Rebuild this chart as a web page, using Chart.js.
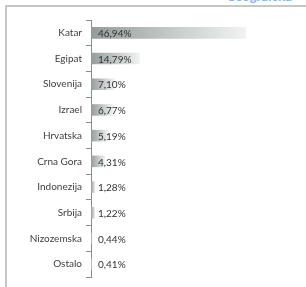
<!DOCTYPE html>
<html lang="hr">
<head>
    <meta charset="UTF-8">
    <title>Udio po zemljama</title>
    <script src="https://cdn.jsdelivr.net/npm/chart.js"></script>
    <style>
        body {
            margin: 0;
            background: white;
            width: 306px;
            height: 287px;
            overflow: hidden;
            position: relative;
            font-family: Lato, Arial, sans-serif;
        }
        .frame {
            position: absolute;
            left: 5px;
            top: 5px;
            width: 400px;
            height: 400px;
            border: 2px solid #c6c6c6;
        }
        .title {
            position: absolute;
            left: 226px;
            top: -12px;
            font-size: 13px;
            font-weight: bold;
            color: #8db3e2;
        }
        .wrap {
            position: absolute;
            left: 0;
            top: 0;
            width: 306px;
            height: 287px;
        }
    </style>
</head>
<body>
    <div class="frame"></div>
    <div class="title">Geografska</div>
    <div class="wrap"><canvas id="chart"></canvas></div>

    <script>
        const categories = ["Katar", "Egipat", "Slovenija", "Izrael", "Hrvatska", "Crna Gora", "Indonezija", "Srbija", "Nizozemska", "Ostalo"];
        const shares = [46.94, 14.79, 7.10, 6.77, 5.19, 4.31, 1.28, 1.22, 0.44, 0.41];

        // bar fill: grey at the axis fading to almost white at the bar end
        function barFill(c) {
            const chart = c.chart;
            if (!chart.chartArea || c.type !== 'data') return '#b4baba';
            const x = chart.scales.x;
            const x0 = x.getPixelForValue(0);
            const x1 = Math.max(x.getPixelForValue(c.raw), x0 + 1);
            const g = chart.ctx.createLinearGradient(x0, 0, x1, 0);
            g.addColorStop(0, '#939c9c');
            g.addColorStop(1, '#f1f3f3');
            return g;
        }

        const valueLabels = {
            id: 'valueLabels',
            afterDatasetsDraw(chart) {
                const ctx = chart.ctx;
                const meta = chart.getDatasetMeta(0);
                ctx.save();
                ctx.font = '10px Lato, Arial, sans-serif';
                ctx.fillStyle = '#333333';
                ctx.textBaseline = 'middle';
                ctx.textAlign = 'left';
                meta.data.forEach((el, i) => {
                    const txt = shares[i].toFixed(2).replace('.', ',') + '%';
                    ctx.fillText(txt, el.base + 7, el.y + 1);
                });
                ctx.restore();
            }
        };

        new Chart(document.getElementById('chart'), {
            type: 'bar',
            data: {
                labels: categories,
                datasets: [{
                    data: shares,
                    backgroundColor: barFill,
                    borderWidth: 0,
                    barPercentage: 0.45,
                    categoryPercentage: 1
                }]
            },
            options: {
                indexAxis: 'y',
                responsive: true,
                maintainAspectRatio: false,
                animation: false,
                layout: { padding: { top: 20, bottom: 9, left: 0, right: 17 } },
                scales: {
                    x: { display: false, min: 0, max: 60 },
                    y: {
                        afterFit(s) { s.width = 91; },
                        grid: {
                            offset: true,
                            drawOnChartArea: false,
                            tickLength: 5,
                            color: '#8c8c8c'
                        },
                        border: { display: true, color: '#8c8c8c' },
                        ticks: {
                            padding: 4,
                            color: '#404040',
                            font: { family: 'Lato, Arial, sans-serif', size: 10 }
                        }
                    }
                },
                plugins: {
                    legend: { display: false },
                    tooltip: { enabled: false }
                }
            },
            plugins: [valueLabels]
        });
    </script>
</body>
</html>
